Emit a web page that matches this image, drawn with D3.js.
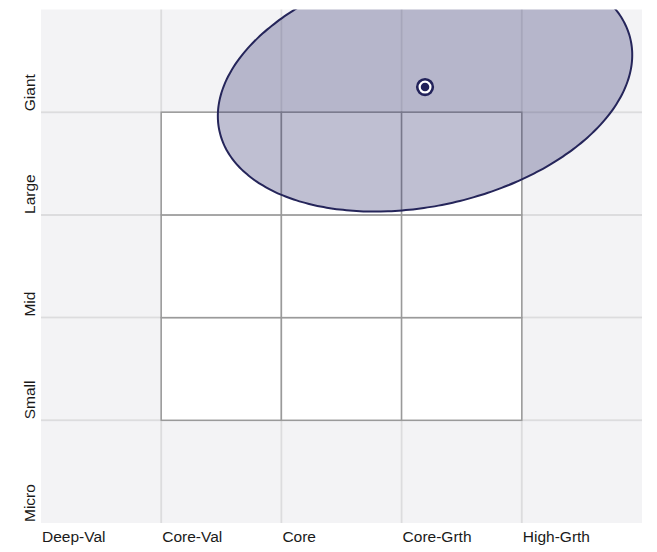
<!DOCTYPE html>
<html>
<head>
<meta charset="utf-8">
<script src="https://cdn.jsdelivr.net/npm/d3@7"></script>
<style>
  body{ margin:0; padding:0; background:#fff; }
  svg{ display:block; font-family:"Liberation Sans", Arial, sans-serif; }
</style>
</head>
<body>
<div id="chart"></div>
<script>
// style box labels, left to right / bottom to top
const styleLabels = ["Deep-Val", "Core-Val", "Core", "Core-Grth", "High-Grth"];
const sizeLabels = ["Micro", "Small", "Mid", "Large", "Giant"];
// the white 3x3 core box (column / row indexes)
const coreCols = [1, 2, 3];
const coreRows = [1, 2, 3];
// ownership zone in style-box units
const zoneCenter = [3.195, 4.26];
const zoneRadii = [1.77, 1.16];
const zoneAngle = [17.5];
// holding centroid
const centroid = [3.195, 4.245];

var width = 657;
var height = 552;

var x = d3.scaleLinear().domain([0, 5]).range([41, 642]);
var y = d3.scaleLinear().domain([0, 5]).range([523, 9.5]);

var svg = d3.select("#chart")
    .append("svg")
    .attr("width", width)
    .attr("height", height);

svg.append("clipPath")
    .attr("id", "plotClip")
    .append("rect")
    .attr("x", x(0))
    .attr("y", y(5))
    .attr("width", x(5) - x(0))
    .attr("height", y(0) - y(5));

/*
grey outer cells, light gaps between them
*/
var cells = [];
for (let c = 0; c < styleLabels.length; c++) {
  for (let r = 0; r < sizeLabels.length; r++) cells.push([c, r]);
}

svg.append("g")
    .selectAll("rect")
    .data(cells)
    .enter()
    .append("rect")
    .attr("x", (d) => x(d[0]) + (d[0] > 0 ? 1 : 0))
    .attr("y", (d) => y(d[1] + 1) + (d[1] < 4 ? 1 : 0))
    .attr("width", (d) => x(d[0] + 1) - x(d[0]) - (d[0] > 0 ? 1 : 0) - (d[0] < 4 ? 1 : 0))
    .attr("height", (d) => y(d[1]) - y(d[1] + 1) - (d[1] < 4 ? 1 : 0) - (d[1] > 0 ? 1 : 0))
    .style("fill", "#f3f3f5");

// light separators
svg.append("g")
    .selectAll("line.v")
    .data(d3.range(1, 5))
    .enter()
    .append("line")
    .attr("x1", (d) => x(d)).attr("x2", (d) => x(d))
    .attr("y1", y(5)).attr("y2", y(0))
    .style("stroke", "#dcdcde").style("stroke-width", 2);

svg.append("g")
    .selectAll("line.h")
    .data(d3.range(1, 5))
    .enter()
    .append("line")
    .attr("y1", (d) => y(d)).attr("y2", (d) => y(d))
    .attr("x1", x(0)).attr("x2", x(5))
    .style("stroke", "#dcdcde").style("stroke-width", 2);

/*
white core box
*/
var core = [];
coreCols.forEach((c) => coreRows.forEach((r) => core.push([c, r])));

svg.append("g")
    .selectAll("rect")
    .data(core)
    .enter()
    .append("rect")
    .attr("x", (d) => x(d[0]))
    .attr("y", (d) => y(d[1] + 1))
    .attr("width", (d) => x(d[0] + 1) - x(d[0]))
    .attr("height", (d) => y(d[1]) - y(d[1] + 1))
    .style("fill", "#fff")
    .style("stroke", "#9a9a9a")
    .style("stroke-width", 1.5);

/*
ownership zone
*/
var th = zoneAngle[0] * Math.PI / 180;
var zonePts = d3.range(0, 360, 2).map((deg) => {
  var t = deg * Math.PI / 180;
  var ex = zoneRadii[0] * Math.cos(t), ey = zoneRadii[1] * Math.sin(t);
  return [zoneCenter[0] + ex * Math.cos(th) - ey * Math.sin(th),
          zoneCenter[1] + ex * Math.sin(th) + ey * Math.cos(th)];
});

svg.append("path")
    .datum(zonePts)
    .attr("clip-path", "url(#plotClip)")
    .attr("d", d3.line()
        .x((d) => x(d[0]))
        .y((d) => y(d[1]))
        .curve(d3.curveCardinalClosed))
    .style("fill", "#2b2b6b")
    .style("fill-opacity", 0.3)
    .style("stroke", "#25255a")
    .style("stroke-width", 2);

// centroid marker
svg.append("circle")
    .attr("cx", x(centroid[0]))
    .attr("cy", y(centroid[1]))
    .attr("r", 7.8)
    .style("fill", "#fff")
    .style("stroke", "#22225a")
    .style("stroke-width", 2.6);

svg.append("circle")
    .attr("cx", x(centroid[0]))
    .attr("cy", y(centroid[1]))
    .attr("r", 4.3)
    .style("fill", "#22225a");

/*
labels
*/
svg.append("g")
    .selectAll("text")
    .data(styleLabels)
    .enter()
    .append("text")
    .attr("x", (d, i) => x(i) + 1)
    .attr("y", 542)
    .style("font-size", "15.5px")
    .style("fill", "#1a1a1a")
    .text((d) => d);

svg.append("g")
    .selectAll("text")
    .data(sizeLabels)
    .enter()
    .append("text")
    .attr("transform", (d, i) => "translate(35," + (y(i) - 1) + ") rotate(-90)")
    .style("font-size", "15.5px")
    .style("fill", "#1a1a1a")
    .text((d) => d);
</script>
</body>
</html>
